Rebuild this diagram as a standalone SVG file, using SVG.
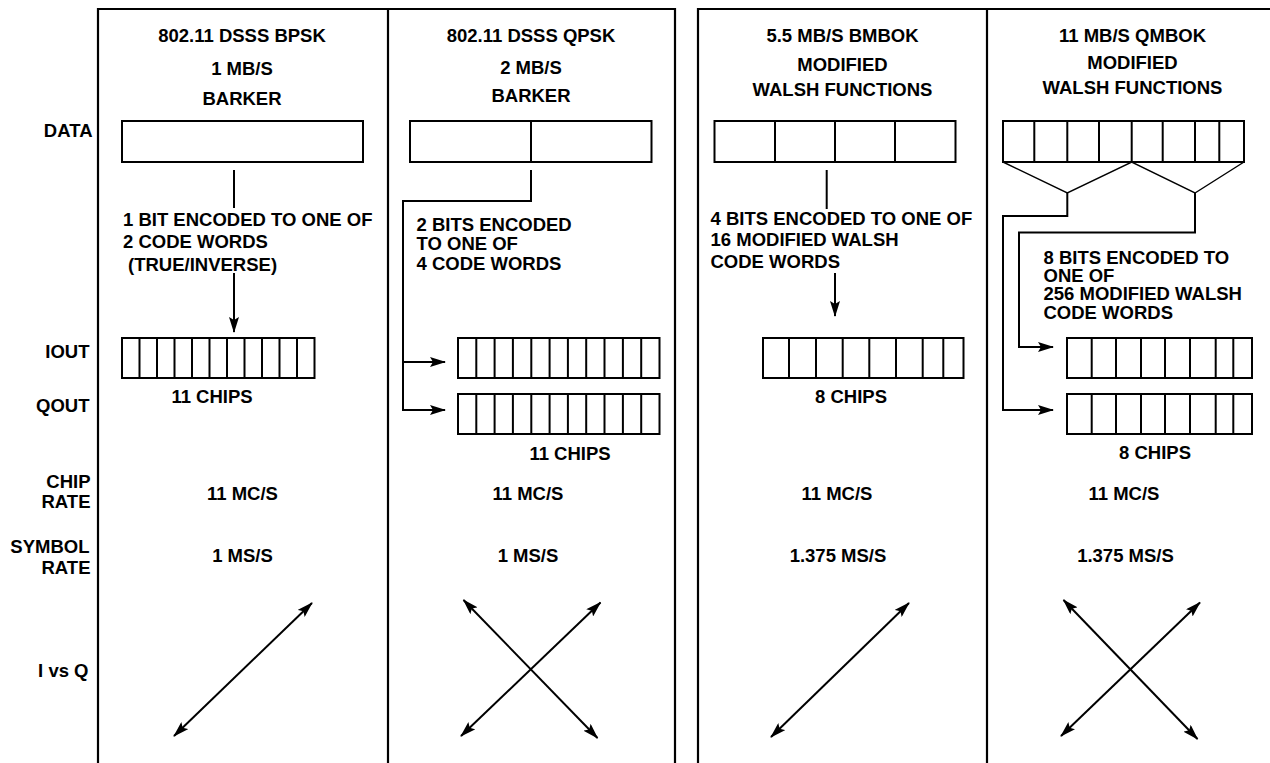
<svg xmlns="http://www.w3.org/2000/svg" width="1270" height="763" viewBox="0 0 1270 763">
<style>
text{font-family:"Liberation Sans",Arial,sans-serif;font-weight:bold;fill:#000;}
.h{font-size:18.5px;text-anchor:middle;}
.t{font-size:18.5px;}
.c{font-size:18.5px;text-anchor:middle;}
.lbl{font-size:18.5px;text-anchor:end;}
.frame{fill:none;stroke:#000;stroke-width:2.2;}
.box{fill:#fff;stroke:#000;stroke-width:2;}
.ln{fill:none;stroke:#000;stroke-width:2;}
.thin{fill:none;stroke:#000;stroke-width:1.4;}
</style>
<defs>
<marker id="ah" viewBox="0 0 16 10" refX="15" refY="5" markerWidth="16" markerHeight="10" markerUnits="userSpaceOnUse" orient="auto-start-reverse">
<path d="M0,0 L16,5 L0,10 L3,5 z" fill="#000"/>
</marker>
</defs>
<rect width="1270" height="763" fill="#fff"/>
<g id="frames">
<path class="frame" d="M98,763 V9 H675 V763 M388,9 V763"/>
<path class="frame" d="M698,763 V9 H1270 M987,9 V763"/>
</g>
<g id="row-labels">
<text class="lbl" x="92.5" y="137">DATA</text>
<text class="lbl" x="89.5" y="358">IOUT</text>
<text class="lbl" x="89.5" y="411.5">QOUT</text>
<text class="lbl" x="90.5" y="488">CHIP</text>
<text class="lbl" x="90.5" y="508">RATE</text>
<text class="lbl" x="89.5" y="553">SYMBOL</text>
<text class="lbl" x="90.5" y="574">RATE</text>
<text class="lbl" x="88.5" y="677">I vs Q</text>
</g>
<g id="col1">
<text class="h" x="242" y="41.7">802.11 DSSS BPSK</text>
<text class="h" x="242" y="75">1 MB/S</text>
<text class="h" x="242" y="105">BARKER</text>
<rect class="box" x="122" y="121" width="241" height="41"/>
<text class="t" x="123" y="225.7">1 BIT ENCODED TO ONE OF</text>
<text class="t" x="123" y="248.3">2 CODE WORDS</text>
<text class="t" x="128" y="270.7">(TRUE/INVERSE)</text>
<g id="col1-chips">
<rect class="box" x="122" y="338" width="192.5" height="40"/>
<path class="ln" d="M139.5,338V378M157,338V378M174.5,338V378M192,338V378M209.5,338V378M227,338V378M244.5,338V378M262,338V378M279.5,338V378M297,338V378"/>
</g>
<text class="c" x="212" y="402.7">11 CHIPS</text>
<text class="c" x="242.5" y="500">11 MC/S</text>
<text class="c" x="242.5" y="561.7">1 MS/S</text>
</g>
<g id="col2">
<text class="h" x="531" y="41.7">802.11 DSSS QPSK</text>
<text class="h" x="531" y="74">2 MB/S</text>
<text class="h" x="531" y="102">BARKER</text>
<rect class="box" x="410" y="121" width="241.5" height="41"/>
<path class="ln" d="M531,121V162"/>
<text class="t" x="416.5" y="230.5">2 BITS ENCODED</text>
<text class="t" x="416.5" y="249.5">TO ONE OF</text>
<text class="t" x="416.5" y="270">4 CODE WORDS</text>
<g id="col2-iout">
<rect class="box" x="458" y="338" width="201.5" height="40"/>
<path class="ln" d="M476.3,338V378M494.6,338V378M512.9,338V378M531.3,338V378M549.6,338V378M567.9,338V378M586.2,338V378M604.5,338V378M622.9,338V378M641.2,338V378"/>
</g>
<g id="col2-qout">
<rect class="box" x="458" y="394" width="201.5" height="40"/>
<path class="ln" d="M476.3,394V434M494.6,394V434M512.9,394V434M531.3,394V434M549.6,394V434M567.9,394V434M586.2,394V434M604.5,394V434M622.9,394V434M641.2,394V434"/>
</g>
<text class="c" x="570" y="460">11 CHIPS</text>
<text class="c" x="528" y="500">11 MC/S</text>
<text class="c" x="528" y="561.7">1 MS/S</text>
</g>
<g id="col3">
<text class="h" x="842.5" y="41.7">5.5 MB/S BMBOK</text>
<text class="h" x="842.5" y="71">MODIFIED</text>
<text class="h" x="842.5" y="95.5">WALSH FUNCTIONS</text>
<rect class="box" x="714.5" y="121" width="241" height="41"/>
<path class="ln" d="M775,121V162M835,121V162M895,121V162"/>
<text class="t" x="710.5" y="225">4 BITS ENCODED TO ONE OF</text>
<text class="t" x="710.5" y="246">16 MODIFIED WALSH</text>
<text class="t" x="710.5" y="267.5">CODE WORDS</text>
<g id="col3-chips">
<rect class="box" x="763" y="338" width="200.5" height="40"/>
<path class="ln" d="M789,338V378M816,338V378M842.7,338V378M869.3,338V378M896,338V378M922.7,338V378M943.3,338V378"/>
</g>
<text class="c" x="851" y="402.7">8 CHIPS</text>
<text class="c" x="837" y="500">11 MC/S</text>
<text class="c" x="838" y="561.7">1.375 MS/S</text>
</g>
<g id="col4">
<text class="h" x="1132.5" y="41.7">11 MB/S QMBOK</text>
<text class="h" x="1132.5" y="68.5">MODIFIED</text>
<text class="h" x="1132.5" y="93.5">WALSH FUNCTIONS</text>
<rect class="box" x="1003" y="121" width="241" height="41"/>
<path class="ln" d="M1034.3,121V162M1067.3,121V162M1099,121V162M1131.7,121V162M1162.7,121V162M1195,121V162M1219.3,121V162"/>
<text class="t" x="1043.5" y="263.5">8 BITS ENCODED TO</text>
<text class="t" x="1043.5" y="281.5">ONE OF</text>
<text class="t" x="1043.5" y="299.5">256 MODIFIED WALSH</text>
<text class="t" x="1043.5" y="318.5">CODE WORDS</text>
<g id="col4-iout">
<rect class="box" x="1067" y="338" width="185" height="40"/>
<path class="ln" d="M1091.7,338V378M1116,338V378M1141,338V378M1165,338V378M1190,338V378M1215.7,338V378M1233.3,338V378"/>
</g>
<g id="col4-qout">
<rect class="box" x="1067" y="394" width="185" height="40"/>
<path class="ln" d="M1091.7,394V434M1116,394V434M1141,394V434M1165,394V434M1190,394V434M1215.7,394V434M1233.3,394V434"/>
</g>
<text class="c" x="1155" y="458.5">8 CHIPS</text>
<text class="c" x="1124" y="500">11 MC/S</text>
<text class="c" x="1125.5" y="561.7">1.375 MS/S</text>
</g>
<g id="connectors">
<path class="ln" d="M234,170V208"/>
<path class="ln" d="M234,273V332" marker-end="url(#ah)"/>
<path class="ln" d="M531,170V201H403V410H445" marker-end="url(#ah)"/>
<path class="ln" d="M403,362H445" marker-end="url(#ah)"/>
<path class="ln" d="M826.7,170V209"/>
<path class="ln" d="M835,273V316" marker-end="url(#ah)"/>
<path class="thin" d="M1003,162L1067.3,193L1131.7,162L1195,193L1244,162"/>
<path class="ln" d="M1067.3,193V216H1003V410H1053" marker-end="url(#ah)"/>
<path class="ln" d="M1195,193V232.5H1019V347H1053" marker-end="url(#ah)"/>
<path class="ln" d="M174,736L312,603" marker-start="url(#ah)" marker-end="url(#ah)"/>
<path class="ln" d="M461,736L600.5,602.5" marker-start="url(#ah)" marker-end="url(#ah)"/>
<path class="ln" d="M463.5,600L597.5,738" marker-start="url(#ah)" marker-end="url(#ah)"/>
<path class="ln" d="M771,737L909,603" marker-start="url(#ah)" marker-end="url(#ah)"/>
<path class="ln" d="M1061,736L1200,602.5" marker-start="url(#ah)" marker-end="url(#ah)"/>
<path class="ln" d="M1063.5,600L1197.5,739" marker-start="url(#ah)" marker-end="url(#ah)"/>
</g>
</svg>
